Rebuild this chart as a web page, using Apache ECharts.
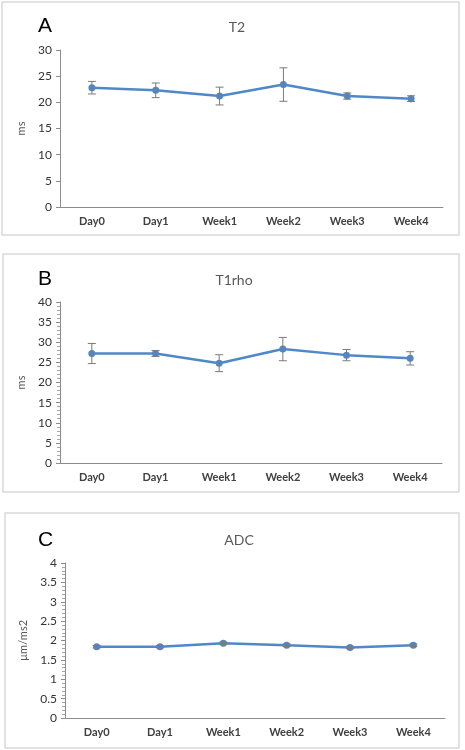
<!DOCTYPE html>
<html>
<head>
<meta charset="utf-8">
<script src="https://cdn.jsdelivr.net/npm/echarts@6/dist/echarts.min.js"></script>
<style>
html, body { margin: 0; padding: 0; background: #fff; }
#main { width: 465px; height: 750px; }
</style>
</head>
<body>
<div id="main"></div>
<script>
var categories = ['Day0', 'Day1', 'Week1', 'Week2', 'Week3', 'Week4'];

var t2Mean = [22.8, 22.3, 21.2, 23.4, 21.2, 20.7];
var t2Err = [1.2, 1.4, 1.7, 3.2, 0.6, 0.55];

var t1rhoMean = [27.2, 27.2, 24.8, 28.3, 26.8, 26.0];
var t1rhoErr = [2.5, 0.75, 2.1, 2.9, 1.4, 1.65];

var adcMean = [1.84, 1.84, 1.93, 1.88, 1.82, 1.88];
var adcErr = [0.03, 0.03, 0.03, 0.03, 0.03, 0.03];

var yTicksA = { min: 0, max: 30, interval: 5 };
var yTicksB = { min: 0, max: 40, interval: 5 };
var yTicksC = { min: 0, max: 4, interval: 0.5 };

var lineColor = '#4f88c9';
var errColor = '#7a7a7a';
var axisColor = '#8c8c8c';
var font = 'Lato, "Open Sans", sans-serif';

// [index, low, high] rows for the error bars
function errRows(mean, err) {
    return mean.map(function (m, i) {
        return [i, m - err[i], m + err[i]];
    });
}

function renderErr(params, api) {
    var lo = api.coord([api.value(0), api.value(1)]);
    var hi = api.coord([api.value(0), api.value(2)]);
    var hw = 4;
    var st = { stroke: errColor, lineWidth: 1 };
    return {
        type: 'group',
        children: [
            { type: 'line', shape: { x1: lo[0], y1: lo[1], x2: hi[0], y2: hi[1] }, style: st },
            { type: 'line', shape: { x1: hi[0] - hw, y1: hi[1], x2: hi[0] + hw, y2: hi[1] }, style: st },
            { type: 'line', shape: { x1: lo[0] - hw, y1: lo[1], x2: lo[0] + hw, y2: lo[1] }, style: st }
        ]
    };
}

function xAxis(idx) {
    return {
        type: 'category',
        gridIndex: idx,
        data: categories,
        axisLine: { lineStyle: { color: axisColor, width: 1 } },
        axisTick: { show: false },
        axisLabel: { color: '#404040', fontSize: 11, fontWeight: 'bold', fontFamily: font, margin: 9 }
    };
}

function yAxis(idx, t, name, minor) {
    return {
        type: 'value',
        gridIndex: idx,
        min: t.min,
        max: t.max,
        interval: t.interval,
        name: name,
        nameLocation: 'middle',
        nameRotate: 90,
        nameGap: idx === 2 ? 35 : 32,
        nameTextStyle: { color: '#595959', fontSize: 11, fontFamily: font },
        axisLine: { show: true, lineStyle: { color: axisColor, width: 1 } },
        axisTick: { show: true, length: 4, lineStyle: { color: axisColor } },
        minorTick: { show: minor, splitNumber: 5, length: 3, lineStyle: { color: '#a6a6a6' } },
        splitLine: { show: false },
        axisLabel: { color: '#333', fontSize: 12, fontFamily: font, margin: 8 }
    };
}

function lineSeries(idx, data) {
    return {
        type: 'line',
        xAxisIndex: idx,
        yAxisIndex: idx,
        data: data,
        symbol: 'circle',
        symbolSize: 7,
        lineStyle: { color: lineColor, width: 2.5 },
        itemStyle: { color: lineColor },
        z: 2
    };
}

function errSeries(idx, mean, err) {
    return {
        type: 'custom',
        xAxisIndex: idx,
        yAxisIndex: idx,
        data: errRows(mean, err),
        renderItem: renderErr,
        z: 3,
        silent: true
    };
}

var myChart = echarts.init(document.getElementById('main'));

myChart.setOption({
    animation: false,
    backgroundColor: '#fff',
    title: [
        { text: 'T2', left: 232, top: 15, textAlign: 'center', textStyle: { color: '#595959', fontSize: 14, fontWeight: 'normal', fontFamily: font } },
        { text: 'T1rho', left: 229, top: 268, textAlign: 'center', textStyle: { color: '#595959', fontSize: 14, fontWeight: 'normal', fontFamily: font } },
        { text: 'ADC', left: 234, top: 528, textAlign: 'center', textStyle: { color: '#595959', fontSize: 14, fontWeight: 'normal', fontFamily: font } },
        { text: 'A', left: 33, top: 11, textStyle: { color: '#000', fontSize: 21, fontWeight: 'normal', fontFamily: '"Liberation Sans", Arial' } },
        { text: 'B', left: 33, top: 264, textStyle: { color: '#000', fontSize: 21, fontWeight: 'normal', fontFamily: '"Liberation Sans", Arial' } },
        { text: 'C', left: 33, top: 525, textStyle: { color: '#000', fontSize: 21, fontWeight: 'normal', fontFamily: '"Liberation Sans", Arial' } }
    ],
    graphic: [
        { type: 'rect', shape: { x: 2, y: 2, width: 457, height: 233 }, style: { fill: 'none', stroke: '#d9d9d9', lineWidth: 1.5 }, z: -1 },
        { type: 'rect', shape: { x: 3, y: 254, width: 456, height: 238 }, style: { fill: 'none', stroke: '#d9d9d9', lineWidth: 1.5 }, z: -1 },
        { type: 'rect', shape: { x: 5, y: 513, width: 454, height: 235 }, style: { fill: 'none', stroke: '#d9d9d9', lineWidth: 1.5 }, z: -1 }
    ],
    grid: [
        { left: 60, top: 50, width: 383, height: 157 },
        { left: 60, top: 302, width: 382, height: 161 },
        { left: 65, top: 563, width: 380, height: 155 }
    ],
    xAxis: [xAxis(0), xAxis(1), xAxis(2)],
    yAxis: [
        yAxis(0, yTicksA, 'ms', false),
        yAxis(1, yTicksB, 'ms', true),
        yAxis(2, yTicksC, 'µm/ms2', true)
    ],
    series: [
        lineSeries(0, t2Mean),
        errSeries(0, t2Mean, t2Err),
        lineSeries(1, t1rhoMean),
        errSeries(1, t1rhoMean, t1rhoErr),
        lineSeries(2, adcMean),
        errSeries(2, adcMean, adcErr)
    ]
});
</script>
</body>
</html>
